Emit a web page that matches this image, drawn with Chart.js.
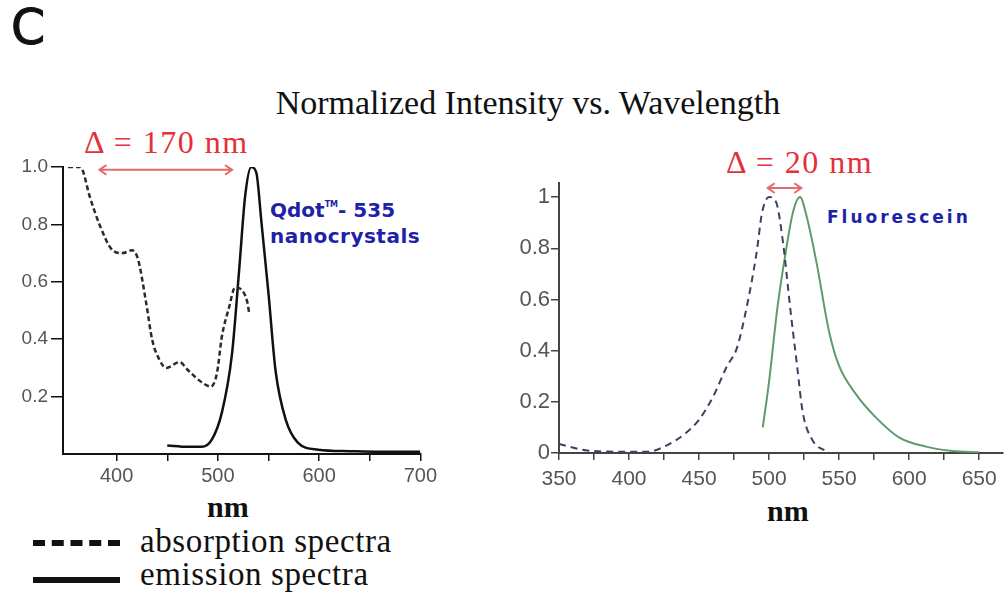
<!DOCTYPE html>
<html>
<head>
<meta charset="utf-8">
<script src="https://cdn.jsdelivr.net/npm/chart.js@4"></script>
<style>
  body { margin: 0; background: #fff; }
  #page { position: relative; width: 1007px; height: 601px; overflow: hidden; background: #fff; }
  .txt { position: absolute; white-space: nowrap; line-height: 1; }
  .serif { font-family: 'Liberation Serif', 'DejaVu Serif', serif; }
  .delta { color: #e3303a; font-size: 32px; letter-spacing: 1.5px; }
  .blue { color: #1e22a8; font-family: 'DejaVu Sans', sans-serif; font-weight: bold; }
  .nm { font-weight: bold; font-size: 30px; color: #111; }
  .leg { font-size: 33px; letter-spacing: 0.6px; color: #111; }
  canvas { position: absolute; }
</style>
</head>
<body>
<div id="page">
  <div class="txt" style="left:11px;top:3px;font-family:'DejaVu Sans',sans-serif;font-size:49px;color:#111;-webkit-text-stroke:1px #111;">C</div>
  <div class="txt serif" style="left:228px;top:86px;width:600px;text-align:center;font-size:34px;color:#111;">Normalized Intensity vs. Wavelength</div>

  <div class="txt serif delta" style="left:84px;top:126px;">&Delta; = 170 nm</div>
  <div class="txt serif delta" style="left:726px;top:146px;">&Delta; = 20 nm</div>

  <div class="txt blue" style="left:270px;top:200px;font-size:20px;">Qdot<sup style="font-size:8px;vertical-align:10px;">TM</sup>- 535</div>
  <div class="txt blue" style="left:270px;top:226px;font-size:20px;letter-spacing:0.5px;">nanocrystals</div>
  <div class="txt blue" style="left:827px;top:209px;font-size:17px;letter-spacing:3px;">Fluorescein</div>

  <div class="txt serif nm" style="left:207px;top:492px;">nm</div>
  <div class="txt serif nm" style="left:767px;top:496px;">nm</div>

  <div style="position:absolute;left:33px;top:540px;width:87px;height:0;border-top:6px dashed #111;"></div>
  <div class="txt serif leg" style="left:140px;top:525px;">absorption spectra</div>
  <div style="position:absolute;left:33px;top:577px;width:87px;height:6px;background:#111;"></div>
  <div class="txt serif leg" style="left:140px;top:558px;">emission spectra</div>

  <canvas id="qdotChart" width="440" height="340" style="left:0px;top:150px;"></canvas>
  <canvas id="fluorChart" width="507" height="340" style="left:500px;top:150px;"></canvas>
</div>
<script>
// Qdot 535 panel (left)
const qdotAbsX = [352, 364, 374, 383, 396, 406, 415, 421, 429, 435, 442, 449, 462, 471, 484, 493, 499, 504, 511, 517, 524, 529, 531];
const qdotAbsY = [1.0, 1.0, 0.89, 0.80, 0.71, 0.70, 0.71, 0.68, 0.53, 0.40, 0.33, 0.30, 0.32, 0.29, 0.25, 0.235, 0.28, 0.41, 0.51, 0.58, 0.57, 0.53, 0.49];
const qdotEmX = [450, 470, 484, 494, 504, 514, 521, 527, 533, 538, 543, 550, 557, 567, 579, 599, 630, 660, 700];
const qdotEmY = [0.03, 0.025, 0.025, 0.05, 0.145, 0.35, 0.64, 0.90, 1.0, 0.98, 0.81, 0.56, 0.29, 0.12, 0.04, 0.015, 0.01, 0.008, 0.008];
const qdotXTicks = [400, 450, 500, 550, 600, 650, 700];
const qdotYTicks = [0.2, 0.4, 0.6, 0.8, 1.0];
const qdotArrow = [383, 514, 0.99];

// Fluorescein panel (right)
const fluorAbsX = [350, 370, 398, 413, 427, 441, 450, 460, 470, 477, 484, 491, 495, 500, 505, 510, 515, 520, 524, 531, 541];
const fluorAbsY = [0.035, 0.01, 0.005, 0.005, 0.03, 0.08, 0.13, 0.22, 0.34, 0.41, 0.57, 0.78, 0.94, 1.0, 0.98, 0.82, 0.57, 0.34, 0.16, 0.05, 0.005];
const fluorEmX = [495.5, 500, 506, 512, 517, 522, 527, 534, 543, 550, 562, 576, 593, 612, 631, 650];
const fluorEmY = [0.10, 0.28, 0.57, 0.79, 0.94, 1.0, 0.92, 0.74, 0.47, 0.34, 0.23, 0.14, 0.06, 0.025, 0.008, 0.003];
const fluorXTicks = [350, 375, 400, 425, 450, 475, 500, 525, 550, 575, 600, 625, 650];
const fluorYTicks = [0, 0.2, 0.4, 0.6, 0.8, 1];
const fluorArrow = [499, 523, 1.035];

const pts = (xs, ys) => xs.map((x, i) => ({ x, y: ys[i] }));

// double-headed arrow drawn in data coordinates
const arrowPlugin = {
    id: 'deltaArrow',
    afterDatasetsDraw(chart, args, opts) {
        const { ctx, scales: { x, y } } = chart;
        const x1 = x.getPixelForValue(opts.span[0]);
        const x2 = x.getPixelForValue(opts.span[1]);
        const yy = y.getPixelForValue(opts.span[2]);
        const h = 7;
        ctx.save();
        ctx.strokeStyle = '#e46a6a';
        ctx.lineWidth = 2;
        ctx.beginPath();
        ctx.moveTo(x1, yy); ctx.lineTo(x2, yy);
        ctx.moveTo(x1 + h, yy - h * 0.7); ctx.lineTo(x1, yy); ctx.lineTo(x1 + h, yy + h * 0.7);
        ctx.moveTo(x2 - h, yy - h * 0.7); ctx.lineTo(x2, yy); ctx.lineTo(x2 - h, yy + h * 0.7);
        ctx.stroke();
        ctx.restore();
    }
};

function makeChart(id, cfg) {
    return new Chart(document.getElementById(id), {
        type: 'line',
        data: { datasets: cfg.datasets },
        options: {
            responsive: false,
            animation: false,
            layout: { padding: cfg.padding },
            elements: { point: { radius: 0 }, line: { cubicInterpolationMode: 'monotone' } },
            plugins: { legend: { display: false }, tooltip: { enabled: false }, deltaArrow: { span: cfg.arrow } },
            scales: {
                x: {
                    type: 'linear', min: cfg.xMin, max: cfg.xMax,
                    afterBuildTicks: s => { s.ticks = cfg.xTicks.map(v => ({ value: v })); },
                    afterFit: s => { s.height = cfg.xHeight; },
                    ticks: {
                        autoSkip: false, maxRotation: 0, padding: cfg.xPad, color: cfg.tickColor,
                        font: { family: "'Liberation Sans', Arial, sans-serif", size: cfg.xFont },
                        callback: v => (v % cfg.xLabelStep === 0 ? String(v) : '')
                    },
                    grid: { drawOnChartArea: false, drawTicks: true, tickLength: 7, color: cfg.axisColor, lineWidth: 1.5 },
                    border: { color: cfg.axisColor, width: 2 }
                },
                y: {
                    min: cfg.yMin, max: cfg.yMax,
                    afterBuildTicks: s => { s.ticks = cfg.yTicks.map(v => ({ value: v })); },
                    afterFit: s => { s.width = cfg.yWidth; },
                    ticks: {
                        padding: cfg.yPad, color: cfg.tickColor,
                        font: { family: "'Liberation Sans', Arial, sans-serif", size: cfg.yFont },
                        callback: cfg.yFmt
                    },
                    grid: { drawOnChartArea: false, drawTicks: true, tickLength: cfg.yTickLen, color: cfg.axisColor, lineWidth: 1.5 },
                    border: { color: cfg.axisColor, width: 2 }
                }
            }
        },
        plugins: [arrowPlugin]
    });
}

makeChart('qdotChart', {
    datasets: [
        { data: pts(qdotAbsX, qdotAbsY), borderColor: '#2a2a2a', borderWidth: 2.5, borderDash: [5, 3] },
        { data: pts(qdotEmX, qdotEmY), borderColor: '#111', borderWidth: 2.5 }
    ],
    padding: { top: 17, right: 18, left: 0, bottom: 0 },
    xMin: 347, xMax: 700, xTicks: qdotXTicks, xLabelStep: 100, xHeight: 36, xFont: 20, xPad: 3,
    yMin: 0, yMax: 1.0, yTicks: qdotYTicks, yWidth: 63, yFont: 19, yPad: 3, yTickLen: 12,
    yFmt: v => v.toFixed(1),
    tickColor: '#555', axisColor: '#111', arrow: qdotArrow
});

makeChart('fluorChart', {
    datasets: [
        { data: pts(fluorAbsX, fluorAbsY), borderColor: '#3c4062', borderWidth: 2, borderDash: [7, 5] },
        { data: pts(fluorEmX, fluorEmY), borderColor: '#5f9a6c', borderWidth: 2 }
    ],
    padding: { top: 33, right: 4, left: 0, bottom: 0 },
    xMin: 350, xMax: 667, xTicks: fluorXTicks, xLabelStep: 50, xHeight: 37, xFont: 21, xPad: 7,
    yMin: 0, yMax: 1.055, yTicks: fluorYTicks, yWidth: 59, yFont: 22, yPad: 1, yTickLen: 8,
    yFmt: v => String(v),
    tickColor: '#555', axisColor: '#444', arrow: fluorArrow
});
</script>
</body>
</html>
